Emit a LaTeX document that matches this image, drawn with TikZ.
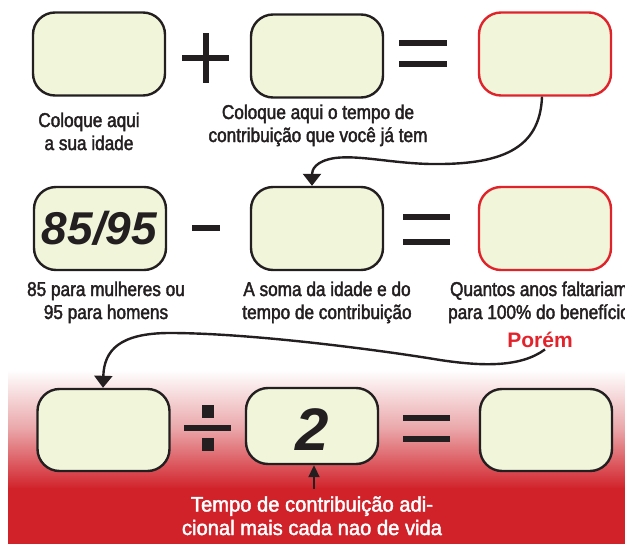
\documentclass[tikz,border=0pt]{standalone}
\usepackage{fontspec}
\setmainfont{Liberation Sans}
\newfontfamily\labfont{Liberation Sans}[FakeStretch=0.86,FakeBold=2]
\newfontfamily\wlabfont{Liberation Sans}[FakeStretch=0.96,FakeBold=2]
\newfontfamily\numfont{Liberation Sans}
\usetikzlibrary{arrows.meta}
\definecolor{boxfill}{HTML}{F1F6DB}
\definecolor{boxline}{HTML}{231F20}
\definecolor{boxred}{HTML}{E0232B}
\definecolor{bandred}{HTML}{D1222A}
\definecolor{bandmid}{HTML}{E9A3A6}
\definecolor{poremred}{HTML}{E3232B}
\begin{document}
\begin{tikzpicture}[x=1pt,y=-1pt,
  box/.style={draw=boxline, line width=2.4pt, fill=boxfill, rounded corners=22pt,
    minimum width=132pt, minimum height=83pt, inner sep=0pt},
  redbox/.style={box, draw=boxred},
  lab/.style={font=\labfont\fontsize{20}{23}\selectfont, align=center, anchor=base,
    inner sep=0pt, text=boxline},
  wlab/.style={font=\wlabfont\fontsize{21}{23.5}\selectfont, align=center, anchor=base,
    inner sep=0pt, text=white},
  num/.style={font=\numfont\bfseries\itshape, text=boxline, inner sep=0pt},
  conn/.style={line width=2.4pt, draw=boxline, -{Triangle[width=18pt,length=12pt]}},
  op/.style={fill=boxline}
]
\useasboundingbox (0,0) rectangle (625,544);
% red band
\shade[top color=white, bottom color=bandmid] (8,370) rectangle (625,431);
\shade[top color=bandmid, bottom color=bandred] (8,430) rectangle (625,489);
\fill[bandred] (8,488) rectangle (625,544);

% row 1
\node[box] (a1) at (99,54) {};
\node[box] (a2) at (317,56) {};
\node[redbox] (a3) at (545,54) {};
\fill[op] (182,55) rectangle (229,61);
\fill[op] (202.5,33) rectangle (208.5,83);
\fill[op] (399,40) rectangle (447,46);
\fill[op] (399,61) rectangle (447,67);

% row 2
\node[box] (b1) at (100,228.5) {};
\node[num, font=\numfont\fontsize{46}{46}\selectfont\bfseries\itshape] (n85) at (99.5,228.5) {85/95};
\node[box] (b2) at (317,228.5) {};
\node[redbox] (b3) at (545,228.5) {};
\fill[op] (192,225) rectangle (220,231);
\fill[op] (403,214) rectangle (450,220);
\fill[op] (403,239) rectangle (450,245);

% row 3
\node[box, minimum height=82pt] (c1) at (103.5,430) {};
\node[box, minimum height=76pt] (c2) at (312,426) {};
\node[box, minimum height=82pt] (c3) at (546,430) {};
\node[num, font=\numfont\fontsize{60}{60}\selectfont\bfseries\itshape] (n2) at (312,429.5) {2};
\fill[op] (184,425) rectangle (231,431);
\fill[op] (202,405) rectangle (214,418);
\fill[op] (202,438) rectangle (214,451);
\fill[op] (403,415) rectangle (450,421);
\fill[op] (403,436) rectangle (450,442);

% labels (base = baseline of the last line)
\node[lab] (l1) at (89,150) {Coloque aqui\\a sua idade};
\node[lab] (l2) at (318,142) {Coloque aqui o tempo de\\contribuição que você já tem};
\node[lab] (l3) at (106,319) {85 para mulheres ou\\95 para homens};
\node[lab] (l4) at (327,319) {A soma da idade e do\\tempo de contribuição};
\node[lab] (l5) at (539,319) {Quantos anos faltariam\\para 100\% do benefício};
\node[font=\fontsize{21}{21}\selectfont\bfseries, text=poremred, anchor=base, inner sep=0pt] (porem) at (540,347) {Porém};
\node[wlab] (l6) at (312,535) {Tempo de contribuição adi-\\cional mais cada nao de vida};

% connectors
\draw[conn] ([xshift=-3pt]a3.south) .. controls (540,150) and (500,165) .. (430,164)
  .. controls (390,163) and (360,155) .. (335,158)
  .. controls (315,161) and (312,170) .. ([xshift=-5pt]b2.north);
\draw[conn] ([xshift=5pt,yshift=-2pt]porem.south) .. controls (520,368) and (480,366) .. (440,360)
  .. controls (380,350) and (250,333) .. (170,333)
  .. controls (120,333) and (104,350) .. ([xshift=-0.5pt]c1.north);
\draw[line width=2pt, draw=boxline, -{Triangle[width=11pt,length=12pt]}] ([xshift=2pt,yshift=7pt]l6.north) -- ([xshift=2pt]c2.south);
\end{tikzpicture}
\end{document}
